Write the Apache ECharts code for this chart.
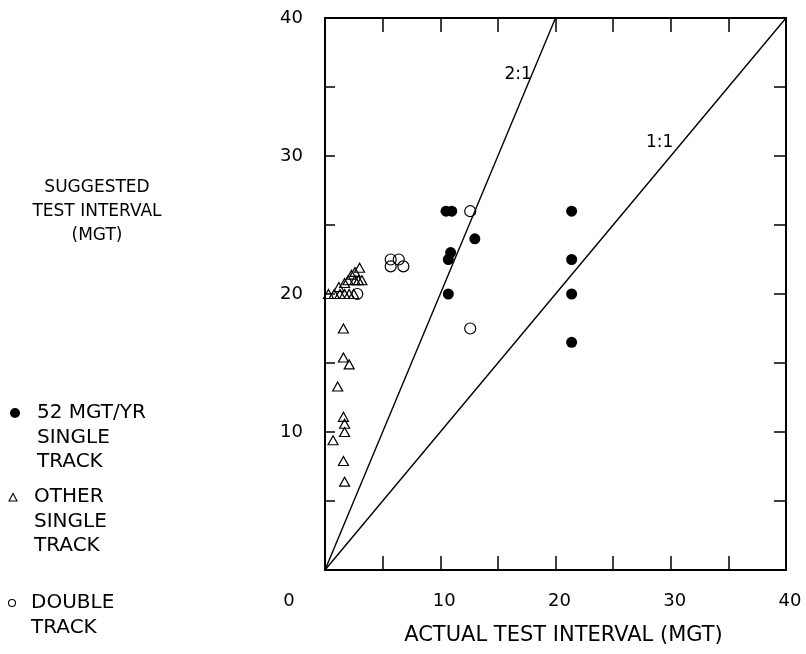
<!DOCTYPE html>
<html>
<head>
<meta charset="utf-8">
<script src="https://cdn.jsdelivr.net/npm/echarts@6/dist/echarts.min.js"></script>
<style>
  html, body { margin: 0; padding: 0; background: #fff; }
  #chart { width: 806px; height: 654px; }
</style>
</head>
<body>
<div id="chart"></div>
<script>
// Suggested vs. actual test interval (MGT) by track type
const heavySingleTrack = [
  [10.5, 26], [11.0, 26], [13.0, 24], [10.9, 23], [10.7, 22.5], [10.7, 20],
  [21.4, 26], [21.4, 22.5], [21.4, 20], [21.4, 16.5]
];
const otherSingleTrack = [
  [0.3, 20], [0.8, 20], [1.3, 20], [1.7, 20], [2.1, 20], [2.5, 20],
  [1.2, 20.5], [1.7, 20.8], [2.0, 21], [2.6, 21], [2.9, 21], [3.2, 21],
  [2.3, 21.4], [2.6, 21.6], [3.0, 21.9],
  [1.6, 17.5], [1.6, 15.4], [2.1, 14.9], [1.1, 13.3],
  [1.6, 11.1], [1.7, 10.6], [1.7, 10.0], [0.7, 9.4], [1.6, 7.9], [1.7, 6.4]
];
const doubleTrack = [
  [12.6, 26], [12.6, 17.5], [5.7, 22.5], [5.7, 22], [6.4, 22.5], [6.8, 22], [2.8, 20]
];
const ratioLines = [
  { label: '2:1', ratio: 2, labelY: 35.9, gap: 0 },
  { label: '1:1', ratio: 1, labelY: 31, gap: 9 }
];
const xLabelValues = [0, 10, 20, 30, 40];
const yLabelValues = [10, 20, 30, 40];

// Key text, one entry per track type
const keyHeavy = ['52 MGT/YR', 'SINGLE', 'TRACK'];
const keyOther = ['OTHER', 'SINGLE', 'TRACK'];
const keyDouble = ['DOUBLE', 'TRACK'];
const yTitleLines = ['SUGGESTED', 'TEST INTERVAL', '(MGT)'];
const xTitle = 'ACTUAL TEST INTERVAL (MGT)';

const FONT = 'DejaVu Sans';
const INK = '#000';
const KEY_FS = 20;
const KEY_LH = 24.5;

const chart = echarts.init(document.getElementById('chart'), null, { renderer: 'canvas' });

const xLabelSet = new Set(xLabelValues);
const yLabelSet = new Set(yLabelValues);
const axisLineStyle = { color: INK, width: 2 };

// One key entry: marker beside the first line of a short text block
function keyText(lines, x, firstLineY) {
  return {
    type: 'text', x: x, y: firstLineY - KEY_LH / 2,
    style: { text: lines.join('\n'), fontFamily: FONT, fontSize: KEY_FS,
      lineHeight: KEY_LH, fill: INK, align: 'left', verticalAlign: 'top' }
  };
}

// Frame axis: same 0-40 scale, ticks pointing into the plot
function frameAxis(position, tickLen, extra) {
  return Object.assign({
    type: 'value', position: position, min: 0, max: 40, interval: 5,
    axisLine: { onZero: false, lineStyle: axisLineStyle },
    axisTick: { inside: true, length: tickLen, lineStyle: { color: INK, width: 1.5 } },
    axisLabel: { show: false },
    splitLine: { show: false }
  }, extra || {});
}

const option = {
  backgroundColor: '#fff',
  animation: false,
  grid: { left: 325, right: 20, top: 18, bottom: 84, containLabel: false },
  graphic: [
    {
      type: 'text', x: 97, y: 176,
      style: { text: yTitleLines.join('\n'), align: 'center', verticalAlign: 'top',
        fontFamily: FONT, fontSize: 17, lineHeight: 24, fill: INK }
    },
    { type: 'circle', shape: { cx: 15, cy: 413, r: 5 }, style: { fill: INK } },
    keyText(keyHeavy, 37, 413),
    { type: 'polygon', shape: { points: [[9, 501], [17, 501], [13, 493.5]] },
      style: { fill: 'none', stroke: INK, lineWidth: 1.1 } },
    keyText(keyOther, 34, 497),
    { type: 'circle', shape: { cx: 12, cy: 603, r: 3.5 },
      style: { fill: 'none', stroke: INK, lineWidth: 1.1 } },
    keyText(keyDouble, 31, 603)
  ],
  xAxis: [
    frameAxis('bottom', 14, {
      axisLabel: {
        show: true,
        margin: 22,
        color: INK, fontFamily: FONT, fontSize: 18,
        formatter: v => !xLabelSet.has(v) ? '' : (v === 0 ? '{z|0}' : '{n|' + v + '}'),
        rich: {
          z: { fontFamily: FONT, fontSize: 18, color: INK, padding: [0, 72, 0, 0] },
          n: { fontFamily: FONT, fontSize: 18, color: INK, padding: [0, 0, 0, 8] }
        }
      },
      name: xTitle,
      nameLocation: 'middle',
      nameGap: 55,
      nameTextStyle: { fontFamily: FONT, fontSize: 21, color: INK, padding: [0, 0, 0, 16] }
    }),
    frameAxis('top', 14)
  ],
  yAxis: [
    frameAxis('left', 10, {
      axisLabel: {
        show: true,
        margin: 22,
        color: INK, fontFamily: FONT, fontSize: 18,
        formatter: v => yLabelSet.has(v) ? String(v) : ''
      }
    }),
    frameAxis('right', 12)
  ],
  series: [
    ...ratioLines.map(r => ({
      type: 'line',
      name: r.label,
      data: [[0, 0], [40 / r.ratio, 40]],
      symbol: 'none',
      silent: true,
      lineStyle: { color: INK, width: 1.4 },
      markPoint: {
        symbol: 'circle', symbolSize: 0,
        label: {
          show: true, position: 'left', distance: r.gap,
          formatter: r.label,
          fontFamily: FONT, fontSize: 17, color: INK
        },
        data: [{ coord: [r.labelY / r.ratio, r.labelY] }]
      }
    })),
    {
      type: 'scatter', name: '52 MGT/YR SINGLE TRACK', data: heavySingleTrack,
      symbol: 'circle', symbolSize: 11,
      itemStyle: { color: INK, opacity: 1 }
    },
    {
      type: 'scatter', name: 'OTHER SINGLE TRACK', data: otherSingleTrack,
      symbol: 'triangle', symbolSize: [10, 9],
      itemStyle: { color: 'transparent', borderColor: INK, borderWidth: 1.2, opacity: 1 }
    },
    {
      type: 'scatter', name: 'DOUBLE TRACK', data: doubleTrack,
      symbol: 'circle', symbolSize: 11,
      itemStyle: { color: 'transparent', borderColor: INK, borderWidth: 1.2, opacity: 1 }
    }
  ]
};

chart.setOption(option);
</script>
</body>
</html>
